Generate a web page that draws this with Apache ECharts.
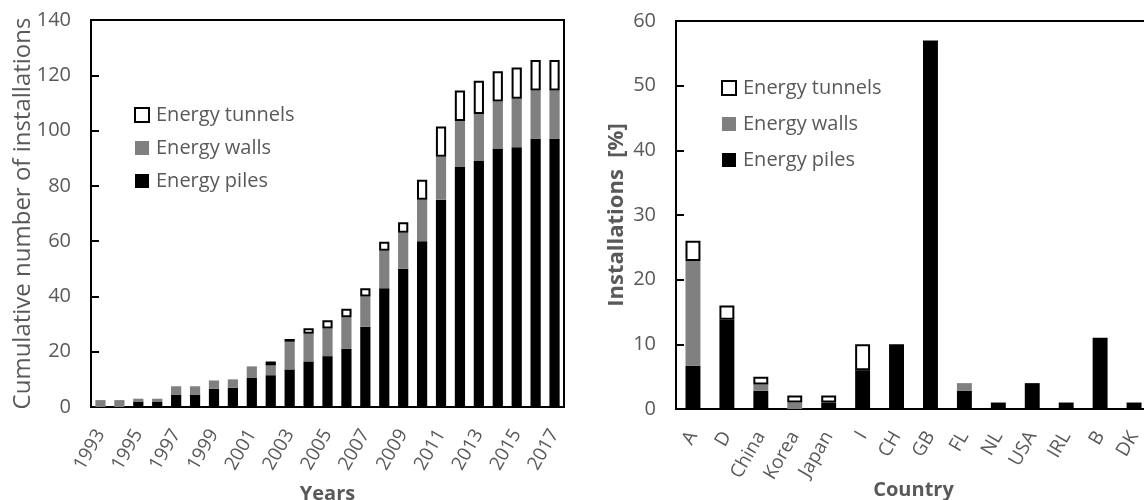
<!DOCTYPE html>
<html>
<head>
<meta charset="utf-8">
<script src="https://cdn.jsdelivr.net/npm/echarts@6/dist/echarts.min.js"></script>
<style>
  html, body { margin: 0; padding: 0; background: #fff; }
  #chart { width: 1144px; height: 500px; }
</style>
</head>
<body>
<div id="chart"></div>
<script>
// left panel: cumulative installations per year
const years = ['1993', '1994', '1995', '1996', '1997', '1998', '1999', '2000', '2001', '2002', '2003', '2004',
  '2005', '2006', '2007', '2008', '2009', '2010', '2011', '2012', '2013', '2014', '2015', '2016', '2017'];
const yearPiles = [0, 0, 2, 2, 4.5, 4.5, 6.6, 7, 10.5, 11.5, 13.6, 16.5,
  18.4, 21, 29, 43, 50, 60, 75, 87, 89, 93.5, 94, 97, 97];
const yearWalls = [2.5, 2.5, 1, 1, 3, 3, 3, 3, 4.2, 3.5, 10, 10,
  10, 11.5, 11, 13.5, 13, 15, 15.5, 16.5, 17, 17, 17.5, 17.5, 17.5];
const yearTunnels = [null, null, null, null, null, null, null, null, null, 1.5, 1, 2,
  3, 3, 3, 3.3, 3.8, 7.2, 11, 11, 12, 11, 11.3, 11, 11];

// right panel: share of installations per country
const countries = ['A', 'D', 'China', 'Korea', 'Japan', 'I', 'CH', 'GB', 'FL', 'NL', 'USA', 'IRL', 'B', 'DK'];
const countryPiles = [6.7, 13.8, 2.8, 0, 1, 6, 10, 57, 2.8, 1, 4, 1, 11, 1];
const countryWalls = [16.2, 0, 1, 1, 0, 0, 0, 0, 1.2, 0, 0, 0, 0, 0];
const countryTunnels = [3.1, 2.2, 1.2, 1.1, 1.1, 4, null, null, null, null, null, null, null, null];

const legendNames = ['Energy tunnels', 'Energy walls', 'Energy piles'];

const textGrey = '#595959';
const font = 'Open Sans';

const chart = echarts.init(document.getElementById('chart'));

const tunnelStyle = { color: '#fff', borderColor: '#000', borderWidth: 2 };
const wallStyle = { color: '#808080' };
const pileStyle = { color: '#000' };

const valueAxis = (gridIndex, max, interval, name, nameGap, nameSize, nameWeight) => ({
  type: 'value',
  gridIndex: gridIndex,
  min: 0,
  max: max,
  interval: interval,
  name: name,
  nameLocation: 'middle',
  nameGap: nameGap,
  nameMoveOverlap: false,
  nameTextStyle: { color: textGrey, fontFamily: font, fontSize: nameSize, fontWeight: nameWeight },
  axisLine: { show: true, lineStyle: { color: '#000', width: 2 } },
  axisTick: { show: true, inside: true, length: 8, lineStyle: { color: '#000', width: 2 } },
  axisLabel: { color: textGrey, fontFamily: font, fontSize: 20, margin: 20 },
  splitLine: { show: false }
});

const categoryAxis = (gridIndex, data, name, nameGap, labelInterval) => ({
  type: 'category',
  gridIndex: gridIndex,
  data: data,
  name: name,
  nameLocation: 'middle',
  nameGap: nameGap,
  nameMoveOverlap: false,
  nameTextStyle: { color: textGrey, fontFamily: font, fontSize: 20, fontWeight: 'bold' },
  axisLine: { lineStyle: { color: '#000', width: 2 } },
  axisTick: { show: false },
  axisLabel: { color: textGrey, fontFamily: font, fontSize: 19, rotate: 60, interval: labelInterval, margin: 24 }
});

const legendText = { color: textGrey, fontFamily: font, fontSize: 20, lineHeight: 20, padding: [0, 0, 0, 2] };

const option = {
  animation: false,
  backgroundColor: '#fff',
  legend: [
    {
      data: legendNames,
      orient: 'vertical',
      left: 129,
      top: 100,
      itemWidth: 14,
      itemHeight: 14,
      itemGap: 13,
      icon: 'rect',
      textStyle: legendText
    },
    {
      data: legendNames,
      orient: 'vertical',
      left: 716,
      top: 73,
      itemWidth: 14,
      itemHeight: 14,
      itemGap: 16,
      icon: 'rect',
      textStyle: legendText
    }
  ],
  grid: [
    { left: 91, top: 20, width: 473, height: 387, show: true, borderColor: '#000', borderWidth: 2, outerBoundsMode: 'none' },
    { left: 676, top: 21, width: 475, height: 388, show: true, borderColor: '#000', borderWidth: 2, outerBoundsMode: 'none' }
  ],
  xAxis: [
    categoryAxis(0, years, 'Years', 77, 1),
    categoryAxis(1, countries, 'Country', 71, 0)
  ],
  yAxis: [
    valueAxis(0, 140, 20, 'Cumulative number of installations', 56, 24, 'normal'),
    valueAxis(1, 60, 10, 'Installations  [%]', 48, 22, 'bold')
  ],
  series: [
    { name: 'Energy piles', type: 'bar', stack: 'years', xAxisIndex: 0, yAxisIndex: 0, data: yearPiles, itemStyle: pileStyle, barCategoryGap: '46%' },
    { name: 'Energy walls', type: 'bar', stack: 'years', xAxisIndex: 0, yAxisIndex: 0, data: yearWalls, itemStyle: wallStyle },
    { name: 'Energy tunnels', type: 'bar', stack: 'years', xAxisIndex: 0, yAxisIndex: 0, data: yearTunnels, itemStyle: tunnelStyle },
    { name: 'Energy piles', type: 'bar', stack: 'countries', xAxisIndex: 1, yAxisIndex: 1, data: countryPiles, itemStyle: pileStyle, barCategoryGap: '56%' },
    { name: 'Energy walls', type: 'bar', stack: 'countries', xAxisIndex: 1, yAxisIndex: 1, data: countryWalls, itemStyle: wallStyle },
    { name: 'Energy tunnels', type: 'bar', stack: 'countries', xAxisIndex: 1, yAxisIndex: 1, data: countryTunnels, itemStyle: tunnelStyle }
  ]
};

chart.setOption(option);
</script>
</body>
</html>
